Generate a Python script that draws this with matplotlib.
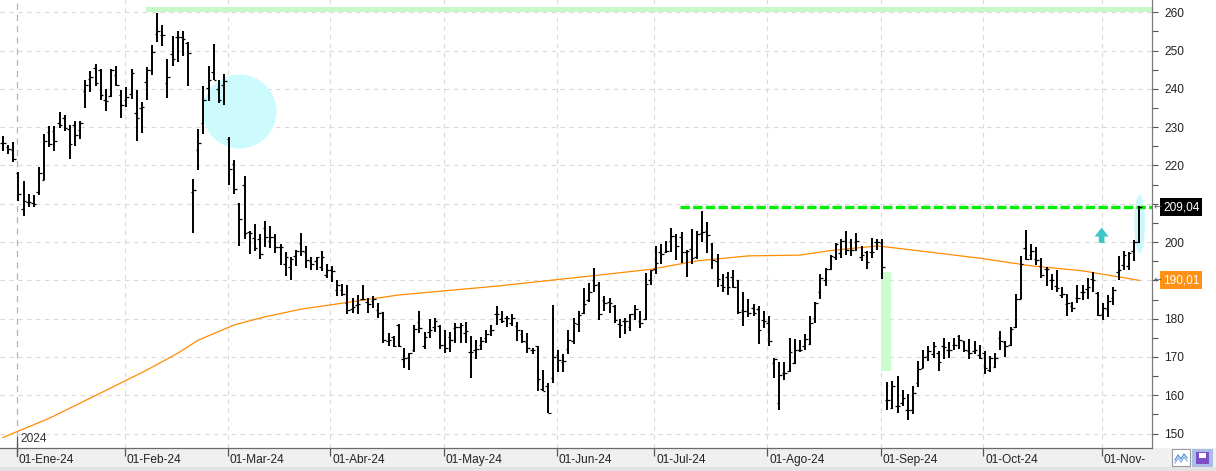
import matplotlib
matplotlib.use("Agg")
import matplotlib.pyplot as plt
from matplotlib.patches import Rectangle, Ellipse, FancyArrow
from matplotlib.transforms import blended_transform_factory
import numpy as np

# daily bars (27-Dic-23 .. 12-Nov-24)
opens = [225.9, 224.9, 224.0, 218.0, 208.6, 210.5, 210.3, 213.2, 216.3, 228.7,
         228.9, 231.0, 232.3, 229.5, 230.5, 229.3, 239.5, 242.5, 245.4, 245.0,
         237.2, 238.2, 243.6, 238.3, 237.0, 238.6, 233.7, 235.0, 241.8, 245.0,
         254.3, 254.1, 241.5, 249.0, 253.6, 253.5, 252.0, 213.0, 224.0, 231.0,
         240.3, 244.3, 240.0, 241.1, 227.0, 220.3, 210.0, 214.8, 202.6, 201.1,
         200.7, 203.6, 200.3, 201.4, 198.8, 194.4, 193.5, 196.3, 199.7, 197.4,
         195.1, 195.1, 193.5, 191.3, 192.6, 187.4, 187.5, 184.1, 182.5, 183.5,
         185.2, 184.3, 184.7, 182.4, 181.7, 174.3, 175.3, 178.3, 169.5, 169.9,
         171.7, 179.1, 173.0, 176.6, 177.9, 178.1, 173.1, 175.3, 177.5, 177.9,
         176.3, 171.4, 171.8, 173.1, 174.9, 176.9, 181.2, 179.8, 180.3, 179.0,
         178.2, 176.0, 174.0, 171.7, 172.9, 161.6, 162.4, 164.5, 170.5, 168.7,
         172.2, 174.3, 178.5, 181.5, 185.0, 190.2, 189.1, 185.0, 184.3, 183.3,
         178.5, 179.3, 177.8, 181.1, 179.3, 180.0, 190.2, 193.0, 197.4, 197.4,
         200.3, 201.6, 201.3, 197.4, 198.3, 196.1, 202.3, 202.9, 199.6, 195.0,
         188.7, 191.0, 191.0, 190.0, 182.2, 182.0, 182.7, 182.5, 179.6, 178.9,
         168.4, 158.0, 165.7, 166.3, 168.4, 171.9, 172.8, 173.4, 180.2, 187.1,
         190.0, 193.0, 196.1, 197.1, 200.4, 199.9, 199.9, 196.1, 197.3, 197.4,
         199.9, 199.7, 158.9, 156.7, 157.1, 158.0, 156.1, 156.1, 163.2, 167.1,
         170.2, 170.9, 171.0, 172.8, 171.7, 173.2, 175.4, 174.1, 171.5, 171.5,
         170.6, 171.0, 166.7, 167.4, 175.0, 173.8, 173.2, 177.8, 185.1, 198.4,
         196.7, 195.6, 193.8, 193.1, 190.2, 188.6, 186.3, 183.9, 183.2, 185.4,
         187.1, 187.8, 190.3, 186.7, 181.3, 182.5, 185.4, 192.3, 194.1, 193.7,
         197.6, 199.9]
highs = [227.6, 225.3, 226.2, 218.3, 216.0, 212.6, 212.3, 219.7, 228.3, 230.3,
         230.2, 233.9, 233.3, 230.5, 231.7, 231.6, 242.2, 244.7, 246.5, 245.2,
         240.0, 245.2, 246.0, 239.7, 240.4, 245.1, 239.7, 236.5, 245.7, 251.5,
         259.9, 256.7, 247.8, 253.8, 255.1, 255.0, 252.3, 216.6, 229.5, 240.8,
         246.1, 251.6, 242.3, 243.9, 227.4, 221.5, 210.2, 217.2, 203.0, 204.6,
         202.0, 205.4, 204.3, 202.2, 199.6, 197.4, 196.0, 198.0, 202.5, 199.1,
         196.0, 196.1, 197.8, 194.2, 193.7, 190.0, 189.1, 188.7, 185.5, 186.3,
         188.7, 185.5, 185.8, 184.2, 181.8, 176.3, 175.5, 178.5, 172.3, 171.1,
         178.3, 182.0, 176.6, 179.8, 180.1, 178.3, 177.0, 176.6, 178.8, 178.8,
         179.2, 175.5, 174.4, 175.3, 177.0, 178.3, 183.3, 182.0, 180.7, 181.2,
         179.2, 177.0, 176.2, 172.3, 172.9, 166.6, 163.1, 183.7, 171.9, 170.9,
         177.0, 180.3, 181.9, 188.1, 189.3, 193.3, 189.6, 185.9, 185.5, 183.5,
         180.0, 180.2, 181.3, 183.5, 181.9, 191.9, 192.8, 199.0, 199.4, 200.4,
         203.7, 202.0, 202.6, 198.0, 203.5, 202.9, 208.1, 205.2, 199.8, 196.8,
         191.7, 192.2, 192.6, 190.2, 187.1, 185.1, 183.9, 183.2, 181.9, 180.6,
         169.7, 168.6, 168.6, 175.0, 174.7, 174.5, 176.0, 180.6, 184.3, 191.7,
         193.2, 196.7, 199.7, 200.8, 203.0, 200.8, 202.3, 198.9, 197.6, 201.0,
         200.9, 200.9, 163.4, 163.7, 165.0, 161.5, 160.3, 162.3, 168.9, 171.7,
         172.8, 173.8, 171.5, 175.0, 173.8, 175.0, 175.8, 174.3, 174.8, 174.1,
         173.2, 171.5, 170.2, 171.0, 176.7, 174.1, 177.8, 186.5, 196.4, 203.2,
         199.6, 198.7, 195.8, 193.5, 191.7, 192.6, 188.4, 186.5, 184.3, 188.9,
         188.9, 190.6, 192.1, 186.9, 184.1, 186.3, 188.3, 196.4, 197.8, 197.3,
         200.6, 209.5]
lows = [223.9, 223.0, 220.8, 210.7, 206.7, 209.1, 209.1, 212.4, 216.1, 224.7,
        223.9, 229.9, 229.1, 221.6, 225.0, 226.9, 235.1, 239.1, 240.7, 237.1,
        234.3, 238.0, 240.8, 232.3, 235.4, 237.3, 226.3, 228.6, 237.1, 243.7,
        252.3, 251.3, 237.7, 246.1, 247.1, 248.7, 240.8, 202.4, 218.7, 228.3,
        236.8, 242.2, 236.2, 235.7, 214.8, 212.6, 199.1, 200.7, 197.0, 197.7,
        195.7, 198.7, 198.4, 197.1, 194.0, 191.2, 190.0, 193.7, 196.5, 193.2,
        192.8, 192.7, 192.5, 190.7, 189.7, 185.8, 185.8, 181.1, 181.5, 181.1,
        184.8, 181.5, 182.9, 180.3, 173.7, 172.9, 172.7, 172.7, 167.2, 166.6,
        171.3, 176.3, 172.0, 175.0, 176.6, 172.0, 171.1, 171.4, 173.6, 173.6,
        173.6, 164.4, 169.5, 171.7, 173.6, 175.5, 178.3, 178.8, 177.9, 178.1,
        174.2, 173.7, 171.0, 170.8, 161.2, 161.0, 155.3, 163.3, 166.1, 166.1,
        170.9, 173.5, 176.5, 181.3, 184.3, 187.0, 179.7, 182.0, 181.5, 178.9,
        175.0, 175.9, 176.8, 179.7, 177.6, 179.7, 188.7, 191.7, 194.3, 197.1,
        197.4, 195.2, 194.5, 191.0, 194.3, 195.7, 200.0, 197.1, 193.0, 188.3,
        187.1, 186.1, 188.1, 181.3, 178.0, 180.4, 180.6, 173.5, 177.6, 172.8,
        164.5, 156.1, 164.1, 166.0, 168.2, 171.2, 171.9, 173.2, 179.0, 185.1,
        188.6, 192.8, 195.4, 195.8, 196.7, 196.3, 197.6, 195.0, 193.0, 195.8,
        198.0, 190.4, 156.1, 156.4, 155.4, 157.3, 153.5, 155.0, 162.2, 167.1,
        168.9, 169.7, 166.3, 169.5, 169.7, 171.7, 172.1, 171.2, 169.5, 170.9,
        169.5, 165.6, 166.0, 167.1, 171.9, 170.0, 172.8, 177.6, 185.1, 195.4,
        195.2, 194.1, 190.6, 188.6, 187.6, 187.1, 185.4, 180.8, 181.7, 184.1,
        185.0, 185.1, 186.9, 180.6, 179.7, 180.4, 183.7, 190.2, 192.8, 192.8,
        195.0, 199.7]
closes = [225.9, 224.4, 221.6, 212.6, 210.8, 210.5, 209.9, 218.0, 226.4, 225.7,
          226.3, 230.6, 229.8, 225.7, 227.9, 231.2, 241.0, 243.0, 241.5, 238.3,
          236.9, 245.0, 241.0, 235.7, 238.0, 244.1, 232.3, 235.4, 244.9, 249.6,
          255.2, 254.1, 243.0, 247.8, 253.6, 253.0, 249.3, 213.5, 226.0, 237.0,
          242.3, 242.3, 237.2, 242.0, 219.1, 213.9, 206.1, 202.5, 202.5, 198.5,
          197.0, 201.3, 201.4, 198.8, 198.8, 196.2, 195.5, 197.6, 197.6, 195.3,
          194.3, 196.0, 196.0, 192.8, 192.4, 188.7, 186.5, 182.2, 183.1, 183.8,
          185.2, 183.9, 185.1, 181.4, 174.4, 174.4, 173.0, 172.9, 169.7, 171.0,
          177.2, 177.5, 175.1, 177.0, 179.4, 173.1, 172.3, 174.4, 177.9, 178.3,
          176.9, 171.4, 172.0, 174.3, 176.0, 177.1, 181.2, 179.5, 180.1, 180.3,
          177.0, 174.2, 172.3, 171.7, 164.3, 161.2, 155.5, 170.0, 169.1, 169.0,
          174.5, 178.9, 180.9, 183.9, 187.0, 188.7, 181.1, 184.1, 184.1, 179.6,
          178.4, 179.4, 181.1, 182.6, 179.0, 189.1, 192.6, 194.5, 197.0, 197.7,
          201.5, 199.0, 197.4, 197.6, 195.8, 202.0, 202.6, 201.9, 195.2, 190.4,
          188.3, 188.3, 188.2, 181.7, 182.0, 181.5, 181.5, 177.1, 179.3, 174.3,
          169.5, 165.4, 165.8, 171.2, 171.7, 171.7, 174.7, 178.9, 184.1, 190.6,
          193.0, 196.3, 199.6, 200.4, 198.0, 198.0, 200.4, 196.7, 194.7, 197.4,
          200.0, 193.4, 158.9, 162.5, 157.1, 159.3, 156.1, 160.6, 166.9, 170.0,
          171.5, 173.0, 168.6, 172.6, 171.7, 173.2, 174.5, 171.7, 171.0, 171.9,
          169.7, 167.1, 169.7, 169.7, 174.1, 172.8, 177.3, 185.1, 194.3, 195.6,
          197.6, 195.4, 191.5, 192.9, 190.2, 188.0, 186.5, 184.1, 182.8, 185.4,
          187.1, 188.4, 190.2, 181.0, 182.8, 184.5, 187.6, 192.8, 196.7, 197.1,
          199.9, 209.04]

# moving average (orange), sampled along the line
ma_idx = [0, 9, 19, 28, 34, 38, 45, 51, 58, 77, 96, 116, 126, 135, 145, 155,
          161, 170, 174, 190, 200, 210, 221]
ma_val = [149.0, 154.0, 160.6, 166.6, 171.0, 174.4, 178.4, 180.5, 182.5, 186.2,
          188.5, 191.4, 192.9, 195.1, 196.4, 196.6, 197.8, 199.0, 198.4, 195.8,
          193.8, 192.5, 190.01]

month_idx = [3, 24, 44, 64, 86, 108, 127, 149, 171, 191, 214]
month_labels = ["01-Ene-24", "01-Feb-24", "01-Mar-24", "01-Abr-24", "01-May-24",
                "01-Jun-24", "01-Jul-24", "01-Ago-24", "01-Sep-24", "01-Oct-24",
                "01-Nov-"]

resistance = 209.04
top_level = (260.0, 261.5)
gap_box = (170.7, 166.4, 192.3)   # x start, bottom, top
last_price = "209,04"
ma_price = "190,01"

W, H = 1216, 471
plt.rcParams['font.family'] = ['Liberation Sans', 'DejaVu Sans']
fig = plt.figure(figsize=(W / 100, H / 100), dpi=100)
fig.patch.set_facecolor('white')

def fx(px):
    return px / W

def fy(py):
    return 1 - py / H

# bottom strip (under the axes)
fig.patches.append(Rectangle((0, fy(467)), 1, fy(448) - fy(467), transform=fig.transFigure,
                             fc='#f0f0f0', ec='none', zorder=-2))
fig.patches.append(Rectangle((0, 0), 1, fy(467), transform=fig.transFigure,
                             fc='#e3e3e3', ec='none', zorder=-2))

ax = fig.add_axes([0, fy(448), fx(1152), fy(0) - fy(448)])
ax.patch.set_alpha(0)
ax.set_xlim(-0.58, 223.5)
ax.set_ylim(146.24, 263.21)

x = np.arange(len(opens))

# decorations behind the bars
ax.fill_between([27.8, 223.5], top_level[0], top_level[1], color='#c8f7c8', lw=0, zorder=1)
ax.scatter([45.9], [234.2], s=2840, color='#cdfbfd', lw=0, zorder=1)
ax.add_patch(Rectangle((gap_box[0], gap_box[1]), 2.1, gap_box[2] - gap_box[1],
                       fc='#ccfbcc', ec='none', zorder=1))
ax.add_patch(Ellipse((221.1, 204.7), 2.1, 15.2, fc='#ccf8fc', ec='none', zorder=1))
ax.add_patch(FancyArrow(213.7, 199.8, 0, 4.0, width=1.1, head_width=2.7, head_length=2.35,
                        length_includes_head=True, fc='#3cc6c8', ec='none', zorder=4))

# grid
for lvl in range(150, 261, 10):
    ax.axhline(lvl, color='#d9d9d9', lw=0.8, ls=(0, (4, 4)), zorder=0.5)
for i in month_idx[1:]:
    ax.axvline(i - 0.3, color='#d9d9d9', lw=0.8, ls=(0, (4, 4)), zorder=0.5)
ax.axvline(month_idx[0] - 0.3, color='#b4b4b4', lw=0.9, ls=(0, (5, 4)), zorder=0.5)

# moving average
ax.plot(ma_idx, ma_val, color='#ff8c00', lw=0.9, zorder=2)

# resistance
ax.plot([131.7, 223.5], [resistance, resistance], color='#00ee00', lw=2.4,
        dashes=(2.8, 1.0), zorder=2)

# OHLC bars
ax.vlines(x, lows, highs, color='black', lw=1.4, zorder=3)
ax.hlines(opens, x - 0.5, x, color='black', lw=0.9, zorder=3)
ax.hlines(closes, x, x + 0.5, color='black', lw=0.9, zorder=3)

# axes styling
for s in ['top', 'left']:
    ax.spines[s].set_visible(False)
ax.spines['right'].set_color('#7a7a7a')
ax.spines['bottom'].set_color('#6a6a6a')
ax.spines['right'].set_linewidth(0.9)
ax.spines['bottom'].set_linewidth(0.9)

ax.yaxis.tick_right()
yt = list(range(150, 261, 10))
ax.set_yticks(yt)
ax.set_yticklabels(['' if v in (190, 210) else str(v) for v in yt])
ax.set_yticks(list(range(155, 260, 10)), minor=True)
ax.tick_params(axis='y', which='both', direction='out', length=4, width=0.8,
               color='#555555', labelsize=8.6, labelcolor='#222222', pad=5)

ax.set_xticks([i - 0.3 for i in month_idx])
ax.set_xticklabels([])
ax.tick_params(axis='x', direction='out', length=6, width=0.9, color='#555555')

xt = blended_transform_factory(ax.transData, fig.transFigure)
for i, lab in zip(month_idx, month_labels):
    ax.text(i + 0.1, fy(460), lab, transform=xt, ha='left', va='center',
            fontsize=8.6, color='#222222', clip_on=False)
ax.text(month_idx[0] + 0.3, fy(439), "2024", transform=xt, ha='left', va='center',
        fontsize=8.6, color='#333333', clip_on=False)
ax.plot([month_idx[0] - 0.3] * 2, [fy(437), fy(456)], transform=xt, color='#555555',
        lw=0.9, clip_on=False)

# price flags on the right scale
yt_tr = blended_transform_factory(fig.transFigure, ax.transData)
ax.text(fx(1163), resistance, last_price, transform=yt_tr, ha='left', va='center',
        fontsize=8.6, color='white', clip_on=False, zorder=6,
        bbox=dict(boxstyle='square,pad=0.25', fc='black', ec='none'))
ax.text(fx(1163), ma_val[-1], ma_price, transform=yt_tr, ha='left', va='center',
        fontsize=8.6, color='white', clip_on=False, zorder=6,
        bbox=dict(boxstyle='square,pad=0.25', fc='#ff9214', ec='none'))
for v in (resistance, ma_val[-1]):
    ax.text(fx(1154), v, '\u2190', transform=yt_tr, ha='left', va='center',
            fontsize=7, color='#666666', family='DejaVu Sans', clip_on=False, zorder=6)

# small toolbar icons, bottom right
fig.patches.append(Rectangle((fx(1172), fy(466)), fx(18), fy(449) - fy(466),
                             transform=fig.transFigure, fc='white', ec='#9a9a9a', lw=0.8))
zx = [1175, 1178, 1181, 1184, 1187]
fig.lines.append(plt.Line2D([fx(v) for v in zx], [fy(p) for p in [460, 455, 459, 454, 458]],
                            transform=fig.transFigure, color='#5a8fd8', lw=0.9))
fig.lines.append(plt.Line2D([fx(v) for v in zx], [fy(p) for p in [463, 458, 462, 457, 461]],
                            transform=fig.transFigure, color='#8ab0e8', lw=0.9))
fig.patches.append(Rectangle((fx(1192), fy(467)), fx(21), fy(449) - fy(467),
                             transform=fig.transFigure, fc='#a9bde9', ec='none'))
fig.patches.append(Rectangle((fx(1196), fy(464)), fx(13), fy(452) - fy(464),
                             transform=fig.transFigure, fc='#7b4fc6', ec='none'))
fig.patches.append(Rectangle((fx(1199), fy(458)), fx(7), fy(453) - fy(458),
                             transform=fig.transFigure, fc='white', ec='none'))

fig.savefig("out.png", dpi=100)
